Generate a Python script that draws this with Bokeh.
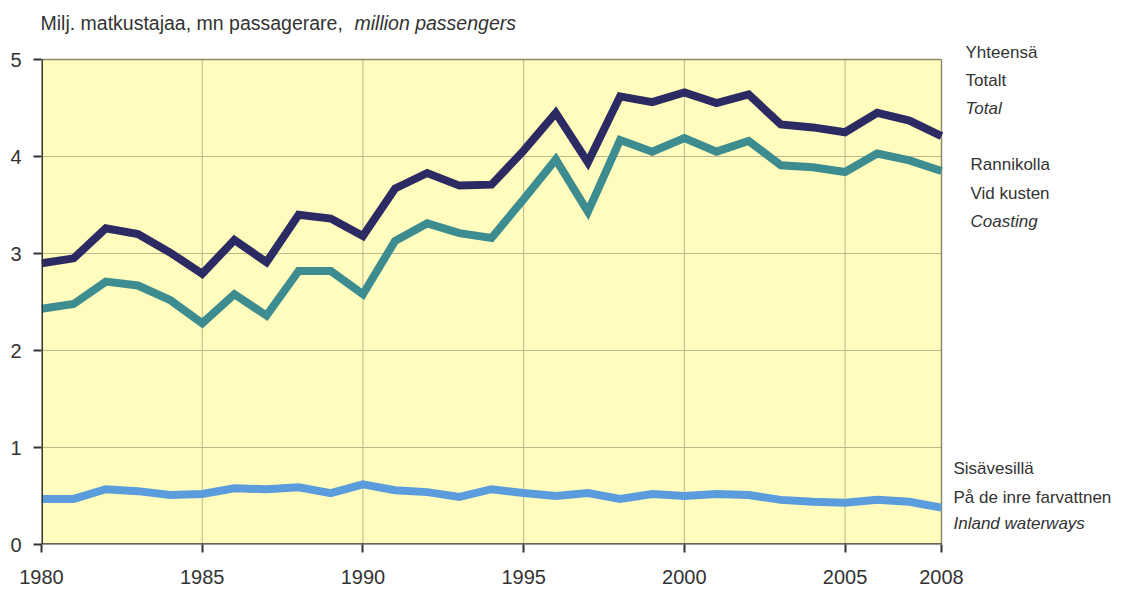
from bokeh.plotting import figure
from bokeh.models import Label, FixedTicker, Range1d
from bokeh.embed import file_html
from bokeh.resources import INLINE

years = list(range(1980, 2009))
total = [2.90, 2.95, 3.26, 3.20, 3.01, 2.79, 3.14, 2.91, 3.40, 3.36,
         3.18, 3.67, 3.83, 3.70, 3.71, 4.06, 4.45, 3.94, 4.62, 4.56,
         4.66, 4.55, 4.64, 4.33, 4.30, 4.25, 4.45, 4.37, 4.21]
coasting = [2.43, 2.48, 2.71, 2.67, 2.52, 2.28, 2.58, 2.36, 2.82, 2.82,
            2.58, 3.13, 3.31, 3.21, 3.16, 3.56, 3.97, 3.43, 4.17, 4.05,
            4.19, 4.05, 4.16, 3.91, 3.89, 3.84, 4.03, 3.96, 3.85]
inland = [0.47, 0.47, 0.57, 0.55, 0.51, 0.52, 0.58, 0.57, 0.59, 0.53,
          0.62, 0.56, 0.54, 0.49, 0.57, 0.53, 0.50, 0.53, 0.47, 0.52,
          0.50, 0.52, 0.51, 0.46, 0.44, 0.43, 0.46, 0.44, 0.38]
x_ticks = [1980, 1985, 1990, 1995, 2000, 2005, 2008]
y_ticks = [0, 1, 2, 3, 4, 5]
title_regular = "Milj. matkustajaa, mn passagerare,"
title_italic = "million passengers"
labels_total = ["Yhteensä", "Totalt", "Total"]
labels_coast = ["Rannikolla", "Vid kusten", "Coasting"]
labels_inland = ["Sisävesillä", "På de inre farvattnen", "Inland waterways"]

FONT = "Liberation Sans"
TXT = "#333333"
X0, X1 = years[0], years[-1]
Y0, Y1 = y_ticks[0], y_ticks[-1]
PX_PER_YEAR = 900 / (X1 - X0)
PX_PER_UNIT = 485 / (Y1 - Y0)
FW, FH = 1090, 540

p = figure(frame_width=FW, frame_height=FH, output_backend="svg", toolbar_location=None,
           x_range=Range1d(X0, X0 + FW / PX_PER_YEAR),
           y_range=Range1d(Y0, Y0 + FH / PX_PER_UNIT),
           min_border_left=41, min_border_top=4, min_border_right=4, min_border_bottom=46)
p.border_fill_color = "white"
p.background_fill_color = "white"
p.outline_line_color = None
p.grid.grid_line_color = None

# plot area
p.quad(left=[X0], right=[X1], bottom=[Y0], top=[Y1], fill_color="#fffcbe", line_color=None)
gx = [t for t in x_ticks if X0 < t < X1 and t % 5 == 0]
gy = [t for t in y_ticks if Y0 < t < Y1]
p.segment(x0=gx, y0=[Y0] * len(gx), x1=gx, y1=[Y1] * len(gx), line_color="#bdb88c", line_width=1)
p.segment(x0=[X0] * len(gy), y0=gy, x1=[X1] * len(gy), y1=gy, line_color="#bdb88c", line_width=1)
p.segment(x0=[X0, X1], y0=[Y1, Y0], x1=[X1, X1], y1=[Y1, Y1], line_color="#8c8a6c", line_width=1.5)

p.line(years, total, line_color="#2c2a62", line_width=8, line_join="miter")
p.line(years, coasting, line_color="#3c8c90", line_width=8, line_join="miter")
p.line(years, inland, line_color="#5b9cdc", line_width=8, line_join="miter")

# axis lines
p.segment(x0=[X0], y0=[Y0], x1=[X0], y1=[Y1], line_color=TXT, line_width=3)
p.segment(x0=[X0], y0=[Y0], x1=[X1], y1=[Y0], line_color=TXT, line_width=2.5)

p.xaxis.ticker = FixedTicker(ticks=x_ticks)
p.yaxis.ticker = FixedTicker(ticks=y_ticks)
for ax in (p.xaxis[0], p.yaxis[0]):
    ax.axis_line_color = None
    ax.major_tick_line_color = TXT
    ax.major_tick_line_width = 2
    ax.major_tick_out = 8
    ax.major_tick_in = 0
    ax.minor_tick_line_color = None
    ax.major_label_text_font = FONT
    ax.major_label_text_font_size = "20px"
    ax.major_label_text_color = TXT
p.yaxis.major_label_standoff = 12
p.xaxis.major_label_standoff = 17


def xpos(px):
    return X0 + (px - 41) / PX_PER_YEAR


def ypos(py):
    return Y0 + (544 - py) / PX_PER_UNIT


def lab(x, y, t, size="17px", style="normal"):
    p.add_layout(Label(x=x, y=y, text=t, text_font=FONT, text_font_size=size,
                       text_font_style=style, text_baseline="middle", text_color=TXT))


lab(xpos(40), ypos(22), title_regular, "19.5px")
lab(xpos(354), ypos(22), title_italic, "19.5px", "italic")

styles = ["normal", "normal", "italic"]
for t, py, st in zip(labels_total, [52, 80, 108], styles):
    lab(xpos(965), ypos(py), t, style=st)
for t, py, st in zip(labels_coast, [164, 193, 221], styles):
    lab(xpos(970), ypos(py), t, style=st)
for t, py, st in zip(labels_inland, [468, 497, 523], styles):
    lab(xpos(953), ypos(py), t, style=st)

open("out.html", "w").write(file_html(p, INLINE))
